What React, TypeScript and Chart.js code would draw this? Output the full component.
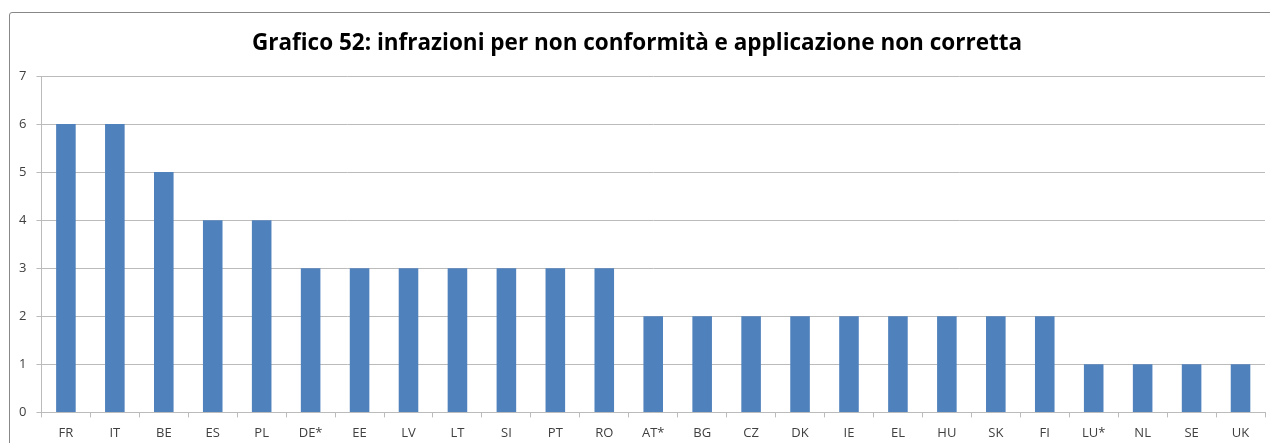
import React, { useEffect, useRef } from "react";
import { Chart, registerables } from "chart.js";

Chart.register(...registerables);

const categories = ["FR", "IT", "BE", "ES", "PL", "DE*", "EE", "LV", "LT", "SI", "PT", "RO", "AT*", "BG", "CZ", "DK", "IE", "EL", "HU", "SK", "FI", "LU*", "NL", "SE", "UK"];
const values = [6, 6, 5, 4, 4, 3, 3, 3, 3, 3, 3, 3, 2, 2, 2, 2, 2, 2, 2, 2, 2, 1, 1, 1, 1];
const titleText = "Grafico 52: infrazioni per non conformità e applicazione non corretta";

export default function App() {
  const ref = useRef<HTMLCanvasElement | null>(null);
  useEffect(() => {
    if (!ref.current) return;
    const chart = new Chart(ref.current, {
      type: "bar",
      data: {
        labels: categories,
        datasets: [
          {
            data: values,
            backgroundColor: "#4F81BD",
            borderWidth: 0,
            barPercentage: 0.4,
            categoryPercentage: 1,
          },
        ],
      },
      options: {
        animation: false,
        responsive: false,
        maintainAspectRatio: false,
        layout: { padding: { left: 9, right: 5, top: 0, bottom: 0 } },
        plugins: {
          legend: { display: false },
          tooltip: { enabled: false },
          title: {
            display: true,
            text: titleText,
            color: "#000000",
            font: { family: "Open Sans", size: 22.5, weight: "bold" },
            padding: { top: 30, bottom: 19 },
          },
        },
        scales: {
          x: {
            offset: true,
            grid: {
              offset: true,
              drawOnChartArea: false,
              drawTicks: true,
              tickLength: 5,
              color: "#BBBBBB",
            },
            border: { display: true, color: "#BBBBBB" },
            ticks: {
              color: "#404040",
              font: { family: "Open Sans", size: 13 },
              padding: 8,
              maxRotation: 0,
              autoSkip: false,
            },
          },
          y: {
            min: 0,
            max: 7,
            grid: {
              drawTicks: true,
              tickLength: 5,
              color: "#BBBBBB",
            },
            border: { display: true, color: "#BBBBBB" },
            ticks: {
              stepSize: 1,
              color: "#404040",
              font: { family: "Open Sans", size: 13 },
              padding: 10,
            },
          },
        },
      },
    });
    return () => chart.destroy();
  }, []);

  return (
    <div style={{ position: "absolute", left: 0, top: 0, width: 1270, height: 443, overflow: "hidden", background: "#fff" }}>
      <div
        style={{
          position: "absolute",
          left: 9,
          top: 12,
          width: 1300,
          height: 500,
          border: "1px solid #888888",
          borderRadius: 3,
          boxSizing: "border-box",
        }}
      />
      <canvas ref={ref} width={1270} height={449} style={{ position: "absolute", left: 0, top: 0 }} />
    </div>
  );
}
